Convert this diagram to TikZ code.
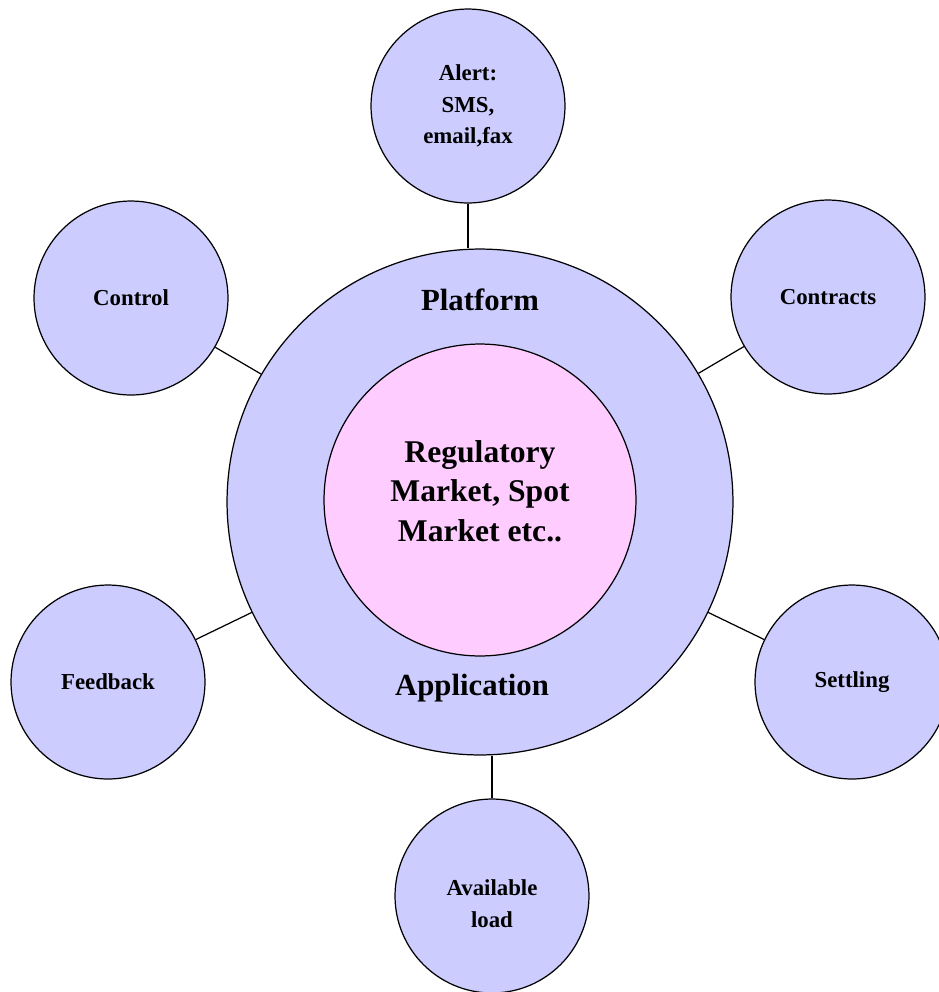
\documentclass[tikz,border=0pt]{standalone}
\usepackage{fontspec}
\setmainfont{Liberation Serif}
\usepackage{xcolor}
\definecolor{ringblue}{RGB}{204,204,255}
\definecolor{corepink}{RGB}{255,204,255}
\usepackage{tikz}
\usetikzlibrary{positioning}
\tikzset{
    ringnode/.style = {circle, draw=black, fill=ringblue, line width=0.7pt,
                       minimum size=10.12cm, inner sep=0pt},
    corenode/.style = {circle, draw=black, fill=corepink, line width=0.7pt,
                       minimum size=6.24cm, inner sep=0pt, align=center,
                       font=\bfseries\fontsize{18}{22.5}\selectfont},
    satnode/.style  = {circle, draw=black, fill=ringblue, line width=0.7pt,
                       minimum size=3.88cm, inner sep=0pt, align=center,
                       font=\bfseries\fontsize{13}{18}\selectfont},
    ringlbl/.style  = {font=\bfseries\fontsize{17.5}{21}\selectfont},
    link/.style     = {draw=black, line width=0.7pt}
}

\begin{document}
\begin{tikzpicture}[x=0.02cm, y=-0.02cm]

\useasboundingbox (0,0) rectangle (939,992);

% --- Platform ring and core ---
\node[ringnode] (plat) at (480,502) {};
\node[corenode] (core) at (480,500) {};
\node (coreT) at (480,491) [font=\bfseries\fontsize{18}{22.5}\selectfont, align=center]
   {Regulatory\\Market, Spot\\Market etc..};
\node[ringlbl] (platT) at (480,300) {Platform};
\node[ringlbl] (appT)  at (472,688) {Application};

% --- Satellite services ---
\node[satnode] (alert)     at (468,106) {Alert:\\SMS,\\email,fax};
\node[satnode] (control)   at (131,298) {Control};
\node[satnode] (contracts) at (828,297) {Contracts};
\node[satnode] (feedback)  at (108,682) {Feedback};
\node[satnode] (settling)  at (852,682) {Settling};
\node[satnode] (avail)     at (492,896) {\\Available\\load};

% --- Connectors to the ring ---
\foreach \sat in {control, contracts, feedback, settling}
   \draw[link] (plat) -- (\sat);
\draw[link] (alert.south) -- (alert.south |- plat.north);
\draw[link] (avail.north) -- (avail.north |- plat.south);

\end{tikzpicture}
\end{document}
